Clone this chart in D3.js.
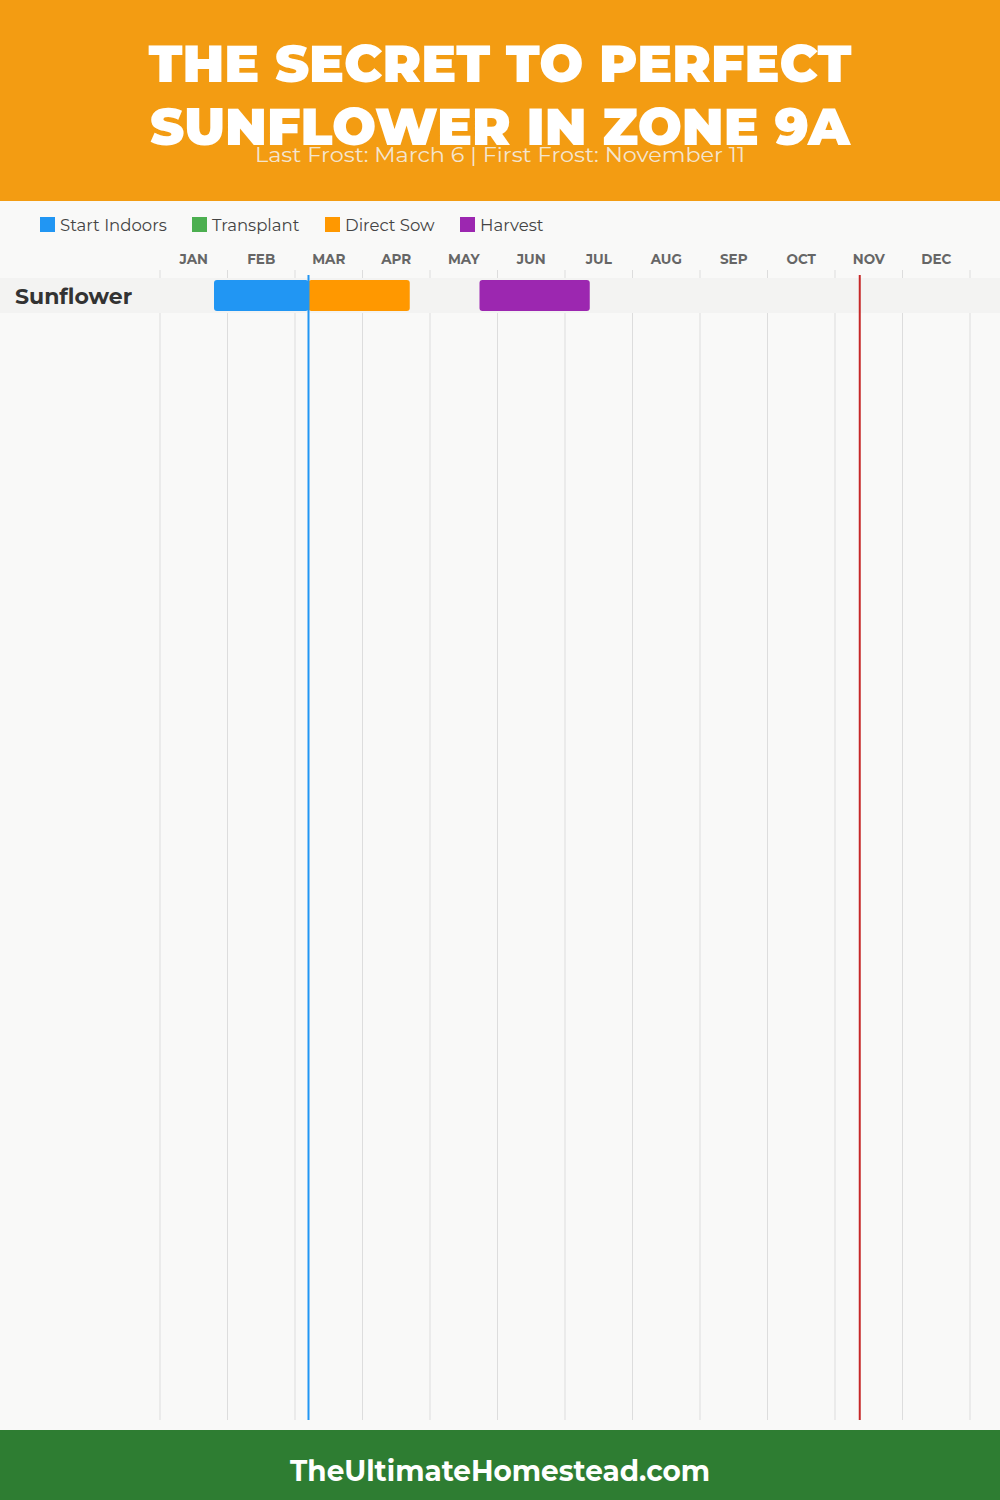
<!DOCTYPE html>
<html><head><meta charset="utf-8">
<script src="https://cdn.jsdelivr.net/npm/d3@7"></script>
<style>body{margin:0;background:#f9f9f8}svg{display:block}</style>
</head><body>
<script>
const months = ["JAN","FEB","MAR","APR","MAY","JUN","JUL","AUG","SEP","OCT","NOV","DEC"];
const crops = ["Sunflower"];
const legendItems = ["Start Indoors","Transplant","Direct Sow","Harvest"];
const legendColors = ["#2196F3","#4CAF50","#FF9800","#9C27B0"];
// periods: [crop, type, startMonth(1-12), startDay, endMonth, endDay]
const periods = [
  ["Sunflower","Start Indoors",1,24,3,6],
  ["Sunflower","Direct Sow",3,6,4,21],
  ["Sunflower","Harvest",5,22,7,11]
];
const lastFrost = [3,6];
const firstFrost = [11,11];
const titleLines = ["THE SECRET TO PERFECT","SUNFLOWER IN ZONE 9A"];
const subtitle = "Last Frost: March 6 | First Frost: November 11";
const footer = "TheUltimateHomestead.com";

const W=1000,H=1500;
const svg=d3.select("body").append("svg").attr("width",W).attr("height",H);
svg.append("rect").attr("width",W).attr("height",H).attr("fill","#f9f9f8");

const x=d3.scaleLinear().domain([0,12]).range([160,970]);
const pos=(m,d)=>x(m-1+d/30);
const color=d3.scaleOrdinal().domain(legendItems).range(legendColors);

// header
svg.append("rect").attr("width",W).attr("height",201).attr("fill","#F39C12");
const tf="'Montserrat','Open Sans','DejaVu Sans',sans-serif";
svg.selectAll("text.title").data(titleLines).join("text")
  .attr("x",500).attr("y",(d,i)=>82+i*63).attr("text-anchor","middle")
  .attr("font-family",tf).attr("font-weight",900).attr("font-size",52)
  .attr("fill","#fff").attr("textLength",(d,i)=>i?700:703).attr("lengthAdjust","spacingAndGlyphs")
  .text(d=>d);
svg.append("text").attr("x",500).attr("y",162).attr("text-anchor","middle")
  .attr("font-family",tf).attr("font-size",21).attr("fill","#f3f0e8").attr("fill-opacity",0.9)
  .attr("textLength",490).attr("lengthAdjust","spacingAndGlyphs").text(subtitle);

// legend
const lx=[40,192,325,460];
const lg=svg.append("g").selectAll("g").data(legendItems).join("g")
  .attr("transform",(d,i)=>`translate(${lx[i]},217)`);
lg.append("rect").attr("width",15).attr("height",15).attr("fill",d=>color(d));
lg.append("text").attr("x",20).attr("y",14).attr("font-family","'Montserrat','Open Sans',sans-serif")
  .attr("font-size",16.5).attr("fill","#444").text(d=>d);

// month labels
svg.selectAll("text.m").data(months).join("text")
  .attr("x",(d,i)=>x(i+0.5)).attr("y",264).attr("text-anchor","middle")
  .attr("font-family","'Montserrat','Open Sans',sans-serif").attr("font-weight",700)
  .attr("font-size",13.5).attr("fill","#666").text(d=>d);

// grid
svg.selectAll("line.g").data(d3.range(13)).join("line")
  .attr("x1",d=>x(d)).attr("x2",d=>x(d)).attr("y1",270).attr("y2",1420)
  .attr("stroke","#dddddd").attr("stroke-width",1);

// rows
const y=d3.scaleBand().domain(crops).range([278,313]);
svg.selectAll("rect.row").data(crops).join("rect")
  .attr("x",0).attr("width",W).attr("y",d=>y(d)).attr("height",y.bandwidth()).attr("fill","#f3f3f2");
svg.selectAll("text.crop").data(crops).join("text")
  .attr("x",15).attr("y",d=>y(d)+y.bandwidth()/2+8).attr("font-family","'Montserrat','Open Sans',sans-serif")
  .attr("font-weight",700).attr("font-size",22).attr("fill","#333").text(d=>d);

svg.selectAll("rect.bar").data(periods).join("rect")
  .attr("x",d=>pos(d[2],d[3])).attr("width",d=>pos(d[4],d[5])-pos(d[2],d[3]))
  .attr("y",d=>y(d[0])+2).attr("height",y.bandwidth()-4).attr("rx",3)
  .attr("fill",d=>color(d[1]));

// frost lines
svg.append("line").attr("x1",pos(...lastFrost)).attr("x2",pos(...lastFrost)).attr("y1",275).attr("y2",1420)
  .attr("stroke","#2196F3").attr("stroke-width",2);
svg.append("line").attr("x1",pos(...firstFrost)).attr("x2",pos(...firstFrost)).attr("y1",275).attr("y2",1420)
  .attr("stroke","#C62828").attr("stroke-width",2);

// footer
svg.append("rect").attr("y",1430).attr("width",W).attr("height",70).attr("fill","#2E7D32");
svg.append("text").attr("x",500).attr("y",1481).attr("text-anchor","middle")
  .attr("font-family",tf).attr("font-weight",700).attr("font-size",29).attr("fill","#fff")
  .attr("textLength",420).attr("lengthAdjust","spacingAndGlyphs").text(footer);
</script>
</body></html>
